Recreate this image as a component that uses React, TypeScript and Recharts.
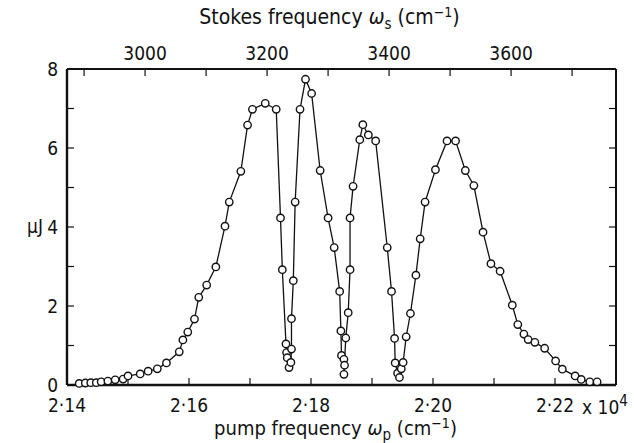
import React from "react";
import { LineChart, Line, XAxis, YAxis } from "recharts";

// pump frequency (cm^-1) of each measured point
const pump = [
  21420, 21430, 21439, 21448, 21456, 21467, 21479, 21492, 21500, 21520, 21533, 21548,
  21563, 21584, 21590, 21598, 21609, 21616, 21629, 21644, 21659, 21666, 21685, 21696,
  21704, 21725, 21743, 21750, 21753, 21759, 21760, 21761, 21764, 21767, 21768, 21768,
  21771, 21774, 21782, 21791, 21801, 21815, 21828, 21838, 21847, 21849, 21850, 21854,
  21855, 21854, 21857, 21861, 21864, 21864, 21869, 21880, 21885, 21894, 21906, 21925,
  21932, 21937, 21938, 21942, 21945, 21948, 21951, 21956, 21963, 21972, 21979, 21987,
  22004, 22023, 22037, 22053, 22067, 22082, 22095, 22110, 22130, 22139, 22149, 22156,
  22167, 22183, 22201, 22212, 22233, 22243, 22257, 22269,
];

// output energy (uJ)
const energy = [
  0.04, 0.05, 0.06, 0.06, 0.08, 0.1, 0.13, 0.15, 0.23, 0.28, 0.35, 0.41,
  0.56, 0.84, 1.14, 1.34, 1.67, 2.22, 2.53, 2.99, 4.02, 4.63, 5.41, 6.58,
  6.98, 7.13, 6.98, 4.23, 2.92, 1.04, 0.82, 0.69, 0.44, 0.57, 0.91, 1.68,
  2.64, 4.63, 6.98, 7.74, 7.38, 5.43, 4.23, 3.48, 2.37, 1.37, 0.75, 0.65,
  0.5, 0.27, 1.19, 1.83, 2.92, 4.23, 5.03, 6.21, 6.59, 6.33, 6.18, 3.48,
  2.37, 1.18, 0.56, 0.3, 0.19, 0.41, 0.57, 1.22, 1.81, 2.78, 3.7, 4.63,
  5.45, 6.18, 6.18, 5.43, 5.05, 3.87, 3.07, 2.88, 2.02, 1.53, 1.29, 1.15,
  1.08, 0.93, 0.61, 0.4, 0.23, 0.14, 0.08, 0.08,
];

const pumpTicks = [21400, 21500, 21600, 21700, 21800, 21900, 22000, 22100, 22200, 22300];
const pumpLabels = [21400, 21600, 21800, 22000, 22200];
const stokesTicks = [2900, 3000, 3100, 3200, 3300, 3400, 3500, 3600, 3700];
const stokesLabels = [3000, 3200, 3400, 3600];
const energyTicks = [0, 1, 2, 3, 4, 5, 6, 7, 8];
const energyLabels = [0, 2, 4, 6, 8];

// pump - stokes offset (cm^-1)
const STOKES_SHIFT = 18528;

const data = pump.map((p, i) => ({ pump: p, stokes: p - STOKES_SHIFT, uj: energy[i] }));

const FONT = "'DejaVu Sans Condensed', 'Liberation Sans Narrow', 'DejaVu Sans', sans-serif";
const INK = "#111";

const tickStyle = { fill: INK, fontSize: 19, fontFamily: FONT };

// axis titles drawn relative to the axis box
function PumpTitle({ viewBox }: any) {
  const { x, y, width } = viewBox;
  return (
    <g fill={INK} fontFamily={FONT}>
      <text x={x + width / 2 - 6} y={y + 50} textAnchor="middle" fontSize={20}>
        pump frequency{"  "}
        <tspan fontStyle="italic">ω</tspan>
        <tspan dy={5} fontSize={15}>p</tspan>
        <tspan dy={-5}> (cm</tspan>
        <tspan dy={-7} fontSize={14}>−1</tspan>
        <tspan dy={7}>)</tspan>
      </text>
      <text x={x + width - 34} y={y + 29} fontSize={19}>
        x 10
        <tspan dy={-8} fontSize={15}>4</tspan>
      </text>
    </g>
  );
}

function StokesTitle({ viewBox }: any) {
  const { x, y, width } = viewBox;
  return (
    <text x={x + width / 2 - 12} y={y + 24} textAnchor="middle" fontSize={21} fill={INK} fontFamily={FONT}>
      Stokes frequency{" "}
      <tspan fontStyle="italic">ω</tspan>
      <tspan dy={5} fontSize={15}>s</tspan>
      <tspan dy={-5}> (cm</tspan>
      <tspan dy={-7} fontSize={14}>−1</tspan>
      <tspan dy={7}>)</tspan>
    </text>
  );
}

function EnergyTitle({ viewBox }: any) {
  const { x, y, height } = viewBox;
  return (
    <text x={x + 35} y={y + height / 2 + 6} textAnchor="middle" fontSize={19} fill={INK} fontFamily={FONT}>
      μJ
    </text>
  );
}

export default function App() {
  return (
    <div style={{ position: "absolute", left: 0, top: 0, background: "#fff" }}>
      <LineChart width={634} height={443} data={data} margin={{ top: 0, right: 0, bottom: 0, left: 0 }}>
        <XAxis
          xAxisId="pump"
          dataKey="pump"
          type="number"
          domain={[21400, 22300]}
          ticks={pumpTicks}
          tickFormatter={(v: number) =>
            pumpLabels.includes(v) ? (v / 10000).toFixed(2).replace(".", "·") : ""
          }
          height={58}
          axisLine={{ stroke: INK, strokeWidth: 2.4 }}
          tickLine={{ stroke: INK, strokeWidth: 1.2 }}
          tickSize={-7}
          tickMargin={21}
          tick={tickStyle}
          label={<PumpTitle />}
        />
        <XAxis
          xAxisId="stokes"
          dataKey="stokes"
          orientation="top"
          type="number"
          domain={[21400 - STOKES_SHIFT, 22300 - STOKES_SHIFT]}
          allowDataOverflow
          ticks={stokesTicks}
          tickFormatter={(v: number) => (stokesLabels.includes(v) ? String(v) : "")}
          height={69}
          axisLine={{ stroke: INK, strokeWidth: 2 }}
          tickLine={{ stroke: INK, strokeWidth: 1.2 }}
          tickSize={-7}
          tickMargin={16}
          tick={tickStyle}
          label={<StokesTitle />}
        />
        <YAxis
          yAxisId="uj"
          type="number"
          domain={[0, 8]}
          ticks={energyTicks}
          tickFormatter={(v: number) => (energyLabels.includes(v) ? String(v) : "")}
          width={67}
          axisLine={{ stroke: INK, strokeWidth: 2.4 }}
          tickLine={{ stroke: INK, strokeWidth: 1.2 }}
          tickSize={-7}
          tickMargin={16}
          tick={tickStyle}
          label={<EnergyTitle />}
        />
        <YAxis
          yAxisId="right"
          orientation="right"
          type="number"
          domain={[0, 8]}
          allowDataOverflow
          ticks={energyTicks}
          tickFormatter={() => ""}
          width={18}
          axisLine={{ stroke: INK, strokeWidth: 2 }}
          tickLine={{ stroke: INK, strokeWidth: 1.2 }}
          tickSize={-7}
          tick={tickStyle}
        />
        {/* invisible twin so the Stokes axis has a series bound to it */}
        <Line
          xAxisId="stokes"
          yAxisId="uj"
          dataKey="uj"
          stroke="none"
          dot={false}
          activeDot={false}
          isAnimationActive={false}
        />
        <Line
          xAxisId="pump"
          yAxisId="uj"
          dataKey="uj"
          type="linear"
          stroke={INK}
          strokeWidth={1.3}
          dot={{ r: 3.7, stroke: INK, strokeWidth: 1.4, fill: "#fff" }}
          isAnimationActive={false}
        />
      </LineChart>
    </div>
  );
}
